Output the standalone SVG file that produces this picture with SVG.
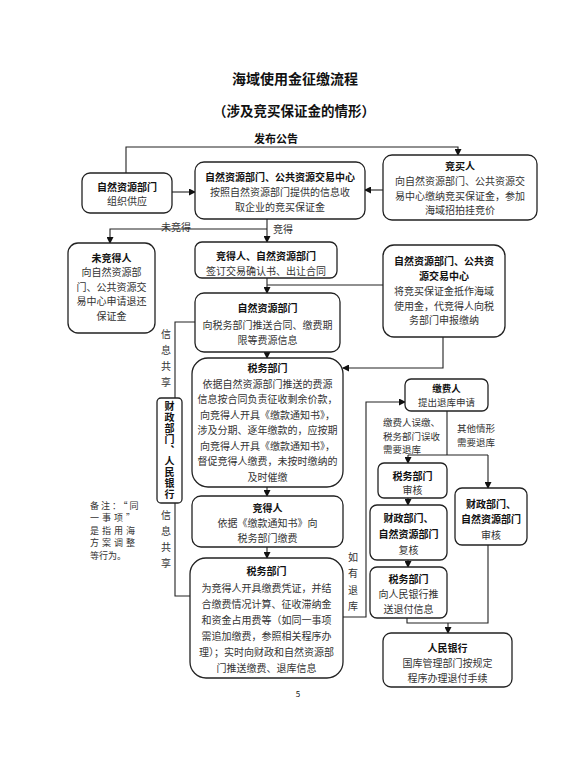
<svg xmlns="http://www.w3.org/2000/svg" width="568" height="776" viewBox="0 0 568 776">
<defs>
<marker id="ah" markerUnits="userSpaceOnUse" markerWidth="7" markerHeight="7" refX="6" refY="3.5" orient="auto">
<path d="M0,0 L7,3.5 L0,7 Z" fill="#111"/>
</marker>
<style>
text{font-family:"Noto Sans CJK SC","Noto Sans",sans-serif;fill:#333;font-size:10px;text-anchor:middle;dominant-baseline:central}
.h{font-weight:bold;fill:#111}
.t{font-weight:bold;fill:#111;font-size:14px}
.b{fill:#fff;stroke:#222;stroke-width:1.3}
.c{fill:none;stroke:#222;stroke-width:1.1}
.a{marker-end:url(#ah)}
.l{text-anchor:start}
.v{writing-mode:vertical-rl}
</style>
</defs>
<rect width="568" height="776" fill="#fff"/>
<text class="t" x="295" y="78">海域使用金征缴流程</text>
<text class="t" x="294" y="110" style="font-size:13.5px">（涉及竞买保证金的情形）</text>

<g id="connectors">
<path class="c a" d="M126,173 V147 H458 V155"/>
<path class="c a" d="M172,192 H195"/>
<path class="c a" d="M383,190 H365"/>
<path class="c a" d="M267,219 V242"/>
<path class="c a" d="M267,229 H110 V243"/>
<path class="c a" d="M267,278 V293"/>
<path class="c" d="M383,285 H267"/>
<path class="c a" d="M267,352 V358"/>
<path class="c a" d="M443,337 V368 H343"/>
<path class="c" d="M195,322 H175 V398"/>
<path class="c" d="M175,503 V596 H190"/>
<path class="c a" d="M267,487 V496"/>
<path class="c a" d="M267,547 V558"/>
<path class="c a" d="M343,617 H366 V402 H405"/>
<path class="c" d="M447,411 V455 M408,455 H488"/>
<path class="c a" d="M408,455 V463"/>
<path class="c a" d="M488,455 V488"/>
<path class="c a" d="M408,498 V505"/>
<path class="c a" d="M408,560 V567"/>
<path class="c" d="M407,618 V623 H488 V545"/>
<path class="c a" d="M448,623 V633"/>
<text class="h" x="276" y="138" style="font-size:11px">发布公告</text>
<text x="176" y="226">未竞得</text>
<text x="283" y="228">竞得</text>
<text class="v" x="166" y="361" style="letter-spacing:6px">信息共享</text>
<text class="v" x="166" y="542" style="letter-spacing:6px">信息共享</text>
<text class="v" x="353" y="585" style="letter-spacing:6.5px">如有退库</text>
<text class="l" x="383" y="422" style="font-size:9.5px">缴费人误缴、</text>
<text class="l" x="383" y="435.5" style="font-size:9.5px">税务部门误收</text>
<text class="l" x="383" y="449" style="font-size:9.5px">需要退库</text>
<text class="l" x="457" y="428" style="font-size:9.5px">其他情形</text>
<text class="l" x="457" y="441.5" style="font-size:9.5px">需要退库</text>
</g>

<g id="n1">
<rect class="b" x="82" y="173" width="90" height="40" rx="8"/>
<text class="h" x="127" y="186">自然资源部门</text>
<text x="127" y="200.5">组织供应</text>
</g>
<g id="n2">
<rect class="b" x="195" y="162" width="170" height="57" rx="9"/>
<text class="h" x="280" y="176.5">自然资源部门、公共资源交易中心</text>
<text x="280" y="191.5">按照自然资源部门提供的信息收</text>
<text x="280" y="206.5">取企业的竞买保证金</text>
</g>
<g id="n3">
<rect class="b" x="383" y="155" width="154" height="65" rx="9"/>
<text class="h" x="460" y="165.5">竞买人</text>
<text x="460" y="180.5">向自然资源部门、公共资源交</text>
<text x="460" y="195">易中心缴纳竞买保证金，参加</text>
<text x="460" y="209.5">海域招拍挂竞价</text>
</g>
<g id="n4">
<rect class="b" x="68" y="243" width="87" height="90" rx="10"/>
<text class="h" x="111.5" y="257">未竞得人</text>
<text x="111.5" y="271.5">向自然资源部</text>
<text x="111.5" y="286">门、公共资源交</text>
<text x="111.5" y="300.5">易中心申请退还</text>
<text x="111.5" y="315">保证金</text>
</g>
<g id="n5">
<rect class="b" x="195" y="242" width="142" height="36" rx="7"/>
<text class="h" x="266" y="255.5">竞得人、自然资源部门</text>
<text x="266" y="270">签订交易确认书、出让合同</text>
</g>
<g id="n6">
<rect class="b" x="383" y="245" width="122" height="92" rx="11"/>
<text class="h" x="444" y="260.5">自然资源部门、公共资</text>
<text class="h" x="444" y="275">源交易中心</text>
<text x="444" y="290.5">将竞买保证金抵作海域</text>
<text x="444" y="305">使用金，代竞得人向税</text>
<text x="444" y="319.5">务部门申报缴纳</text>
</g>
<g id="n7">
<rect class="b" x="195" y="293" width="145" height="59" rx="9"/>
<text class="h" x="267.5" y="307">自然资源部门</text>
<text x="267.5" y="324">向税务部门推送合同、缴费期</text>
<text x="267.5" y="339">限等费源信息</text>
</g>
<g id="n8">
<rect class="b" x="192" y="358" width="151" height="129" rx="16"/>
<text class="h" x="267.5" y="367.5">税务部门</text>
<text x="267.5" y="383">依据自然资源部门推送的费源</text>
<text x="267.5" y="398.5">信息按合同负责征收剩余价款，</text>
<text x="267.5" y="414">向竞得人开具《缴款通知书》，</text>
<text x="267.5" y="429.5">涉及分期、逐年缴款的，应按期</text>
<text x="267.5" y="445">向竞得人开具《缴款通知书》，</text>
<text x="267.5" y="460.5">督促竞得人缴费，未按时缴纳的</text>
<text x="267.5" y="476">及时催缴</text>
</g>
<g id="n9">
<rect class="b" x="157" y="398" width="25" height="105" rx="4"/>
<text class="h v" x="169.5" y="450.5" style="font-size:10px;letter-spacing:1px">财政部门、人民银行</text>
</g>
<g id="n10">
<rect class="b" x="192" y="496" width="151" height="51" rx="9"/>
<text class="h" x="267.5" y="507.5">竞得人</text>
<text x="267.5" y="522.5">依据《缴款通知书》向</text>
<text x="267.5" y="537.5">税务部门缴费</text>
</g>
<g id="n11">
<rect class="b" x="190" y="558" width="153" height="120" rx="16"/>
<text class="h" x="266.5" y="570">税务部门</text>
<text x="266.5" y="587">为竞得人开具缴费凭证，并结</text>
<text x="266.5" y="603">合缴费情况计算、征收滞纳金</text>
<text x="266.5" y="619">和资金占用费等（如同一事项</text>
<text x="266.5" y="635">需追加缴费，参照相关程序办</text>
<text x="266.5" y="651">理）；实时向财政和自然资源部</text>
<text x="266.5" y="667">门推送缴费、退库信息</text>
</g>
<g id="note">
<text class="l" x="90" y="505" style="font-size:9px;letter-spacing:2px">备注：“同</text>
<text class="l" x="90" y="517.5" style="font-size:9px;letter-spacing:3px">一事项”</text>
<text class="l" x="90" y="530" style="font-size:9px;letter-spacing:3px">是指用海</text>
<text class="l" x="90" y="542.5" style="font-size:9px;letter-spacing:3px">方案调整</text>
<text class="l" x="90" y="555" style="font-size:9px">等行为。</text>
</g>
<g id="n12">
<rect class="b" x="405" y="379" width="83" height="32" rx="6"/>
<text class="h" x="446.5" y="388" style="font-size:9.5px">缴费人</text>
<text x="446.5" y="402" style="font-size:9.5px">提出退库申请</text>
</g>
<g id="n13">
<rect class="b" x="378" y="463" width="69" height="35" rx="6"/>
<text class="h" x="412.5" y="475">税务部门</text>
<text x="412.5" y="489.5">审核</text>
</g>
<g id="n14">
<rect class="b" x="455" y="488" width="72" height="57" rx="7"/>
<text class="h" x="491" y="503">财政部门、</text>
<text class="h" x="491" y="518.5">自然资源部门</text>
<text x="491" y="534">审核</text>
</g>
<g id="n15">
<rect class="b" x="370" y="505" width="77" height="55" rx="7"/>
<text class="h" x="408.5" y="517.5">财政部门、</text>
<text class="h" x="408.5" y="533.5">自然资源部门</text>
<text x="408.5" y="549.5">复核</text>
</g>
<g id="n16">
<rect class="b" x="370" y="567" width="77" height="51" rx="7"/>
<text class="h" x="408.5" y="578.5">税务部门</text>
<text x="408.5" y="593.5">向人民银行推</text>
<text x="408.5" y="608">送退付信息</text>
</g>
<g id="n17">
<rect class="b" x="383" y="633" width="129" height="54" rx="8"/>
<text class="h" x="447.5" y="647">人民银行</text>
<text x="447.5" y="662.5">国库管理部门按规定</text>
<text x="447.5" y="677.5">程序办理退付手续</text>
</g>
<text x="298" y="693" style="font-size:8px;fill:#111">5</text>
</svg>
